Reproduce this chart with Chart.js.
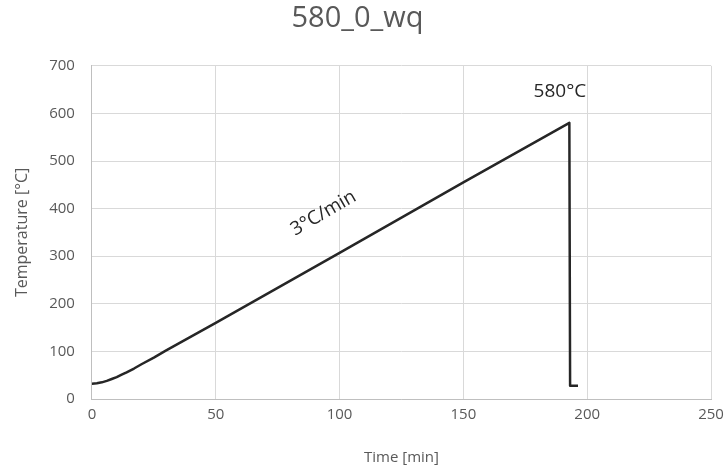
<!DOCTYPE html>
<html>
<head>
<meta charset="utf-8">
<script src="https://cdn.jsdelivr.net/npm/chart.js@4.4.1/dist/chart.umd.min.js"></script>
<style>
html,body{margin:0;padding:0;background:#fff;}
#wrap{width:727px;height:472px;position:relative;}
</style>
</head>
<body>
<div id="wrap"><canvas id="c"></canvas></div>
<script>
const chartTitle = "580_0_wq";
const timeMin = [0, 2, 4, 6, 8, 10, 12, 14, 17, 20, 25, 30, 50, 100, 150, 192.8, 193.1, 196.3];
const tempC   = [32, 33, 35, 38, 42, 46, 51, 56, 64, 73, 87, 102, 160, 307, 455, 580, 28, 28];
const xTicks = [0, 50, 100, 150, 200, 250];
const yTicks = [0, 100, 200, 300, 400, 500, 600, 700];
const labels = [
  {text: "580°C", t: 189, T: 645, angle: 0},
  {text: "3°C/min", t: 93.5, T: 390, angle: -30}
];

const pts = timeMin.map((t, i) => ({x: t, y: tempC[i]}));
const FONT = "'Open Sans', 'Liberation Sans', sans-serif";
const GREY = "#595959";

const annot = {
  id: 'annot',
  afterDatasetsDraw(chart) {
    const ctx = chart.ctx, xs = chart.scales.x, ys = chart.scales.y;
    ctx.save();
    ctx.fillStyle = "#262626";
    ctx.font = "19px " + FONT;
    ctx.textAlign = "center";
    ctx.textBaseline = "middle";
    labels.forEach(l => {
      ctx.save();
      ctx.translate(xs.getPixelForValue(l.t), ys.getPixelForValue(l.T));
      ctx.rotate(l.angle * Math.PI / 180);
      ctx.fillText(l.text, 0, 0);
      ctx.restore();
    });
    ctx.restore();
  }
};

new Chart(document.getElementById('c'), {
  type: 'scatter',
  data: {
    datasets: [{
      data: pts,
      showLine: true,
      borderColor: '#262626',
      borderWidth: 2.5,
      borderJoinStyle: 'round',
      pointRadius: 0,
      tension: 0,
      fill: false
    }]
  },
  options: {
    responsive: true,
    maintainAspectRatio: false,
    animation: false,
    layout: {padding: {left: 4, right: 16, top: 0, bottom: 3}},
    plugins: {
      legend: {display: false},
      tooltip: {enabled: false},
      title: {
        display: true,
        text: chartTitle,
        color: GREY,
        font: {family: FONT, size: 29, weight: 'normal'},
        padding: {top: 1, bottom: 30}
      }
    },
    scales: {
      x: {
        type: 'linear',
        min: 0, max: 250,
        afterBuildTicks: ax => { ax.ticks = xTicks.map(v => ({value: v})); },
        afterFit: ax => { ax.paddingRight = 0; },
        ticks: {color: GREY, font: {family: FONT, size: 15}, padding: 7},
        grid: {color: '#d9d9d9', lineWidth: 1, drawTicks: false},
        border: {color: '#bfbfbf'},
        title: {display: true, text: 'Time [min]', color: GREY, font: {family: FONT, size: 15}, padding: {top: 18, bottom: 2}}
      },
      y: {
        min: 0, max: 700,
        afterBuildTicks: ax => { ax.ticks = yTicks.map(v => ({value: v})); },
        ticks: {color: GREY, font: {family: FONT, size: 15}, padding: 17},
        grid: {color: '#d9d9d9', lineWidth: 1, drawTicks: false},
        border: {color: '#bfbfbf'},
        title: {display: true, text: 'Temperature [°C]', color: GREY, font: {family: FONT, size: 16}, padding: {top: 9, bottom: 0}}
      }
    }
  },
  plugins: [annot]
});
</script>
</body>
</html>
